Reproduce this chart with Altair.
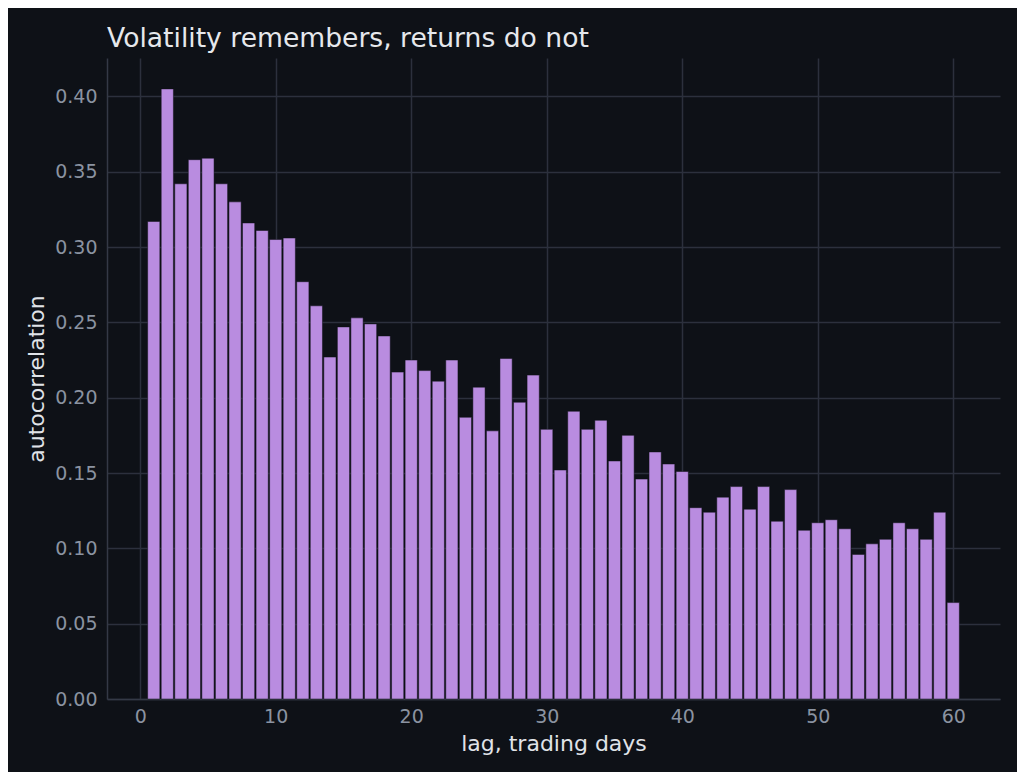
import pandas as pd
import altair as alt

lags = list(range(1, 61))
acf = [
    0.317, 0.405, 0.342, 0.358, 0.359, 0.342, 0.330, 0.316, 0.311, 0.305,
    0.306, 0.277, 0.261, 0.227, 0.247, 0.253, 0.249, 0.241, 0.217, 0.225,
    0.218, 0.211, 0.225, 0.187, 0.207, 0.178, 0.226, 0.197, 0.215, 0.179,
    0.152, 0.191, 0.179, 0.185, 0.158, 0.175, 0.146, 0.164, 0.156, 0.151,
    0.127, 0.124, 0.134, 0.141, 0.126, 0.141, 0.118, 0.139, 0.112, 0.117,
    0.119, 0.113, 0.096, 0.103, 0.106, 0.117, 0.113, 0.106, 0.124, 0.064,
]
x_ticks = [0, 10, 20, 30, 40, 50, 60]
y_ticks = [0.0, 0.05, 0.10, 0.15, 0.20, 0.25, 0.30, 0.35, 0.40]

df = pd.DataFrame({"lag": lags, "acf": acf})

bg = "#0e1117"
grid = "#2c303d"
font = "DejaVu Sans"

chart = (
    alt.Chart(df)
    .transform_calculate(x0="datum.lag - 0.45", x1="datum.lag + 0.45")
    .mark_bar(color="#b98ce0", stroke="#0e1117", strokeWidth=0.5)
    .encode(
        alt.X("x0:Q", scale=alt.Scale(domain=[-2.45, 63.45], nice=False, zero=False),
              axis=alt.Axis(title="lag, trading days", values=x_ticks, format="d",
                            labelPadding=8, titleX=446.5, titleY=51,
                            titleBaseline="alphabetic", titleAlign="center")),
        alt.X2("x1:Q"),
        alt.Y("acf:Q", scale=alt.Scale(domain=[0, 0.4255], nice=False),
              axis=alt.Axis(title="autocorrelation", values=y_ticks, format=".2f",
                            labelPadding=10, titleX=-64, titleY=320.5, titleAngle=270,
                            titleBaseline="alphabetic", titleAlign="center")),
        alt.Y2(datum=0),
        tooltip=["lag", "acf"],
    )
    .properties(
        width=893, height=641, background=bg,
        padding={"left": 99, "top": 50, "right": 17, "bottom": 73},
        autosize=alt.AutoSizeParams(type="none"),
        title=alt.Title("Volatility remembers, returns do not", anchor="start",
                        frame="group", fontSize=26.6, fontWeight="normal",
                        color="#e6e8ec", font=font, offset=6, baseline="bottom", dy=28),
    )
    .configure_view(stroke=None)
    .configure_axis(
        grid=True, gridColor=grid, gridWidth=1.5, ticks=False, tickSize=0,
        domainColor="#343946", domainWidth=1.5,
        labelColor="#8b93a1", labelFont=font, labelFontSize=19,
        titleColor="#e0e3e8", titleFont=font, titleFontSize=22, titleFontWeight="normal",
    )
    .configure_axisX(labelAngle=0)
)

chart.save("out.html", embed_options={"renderer": "svg", "actions": False})
